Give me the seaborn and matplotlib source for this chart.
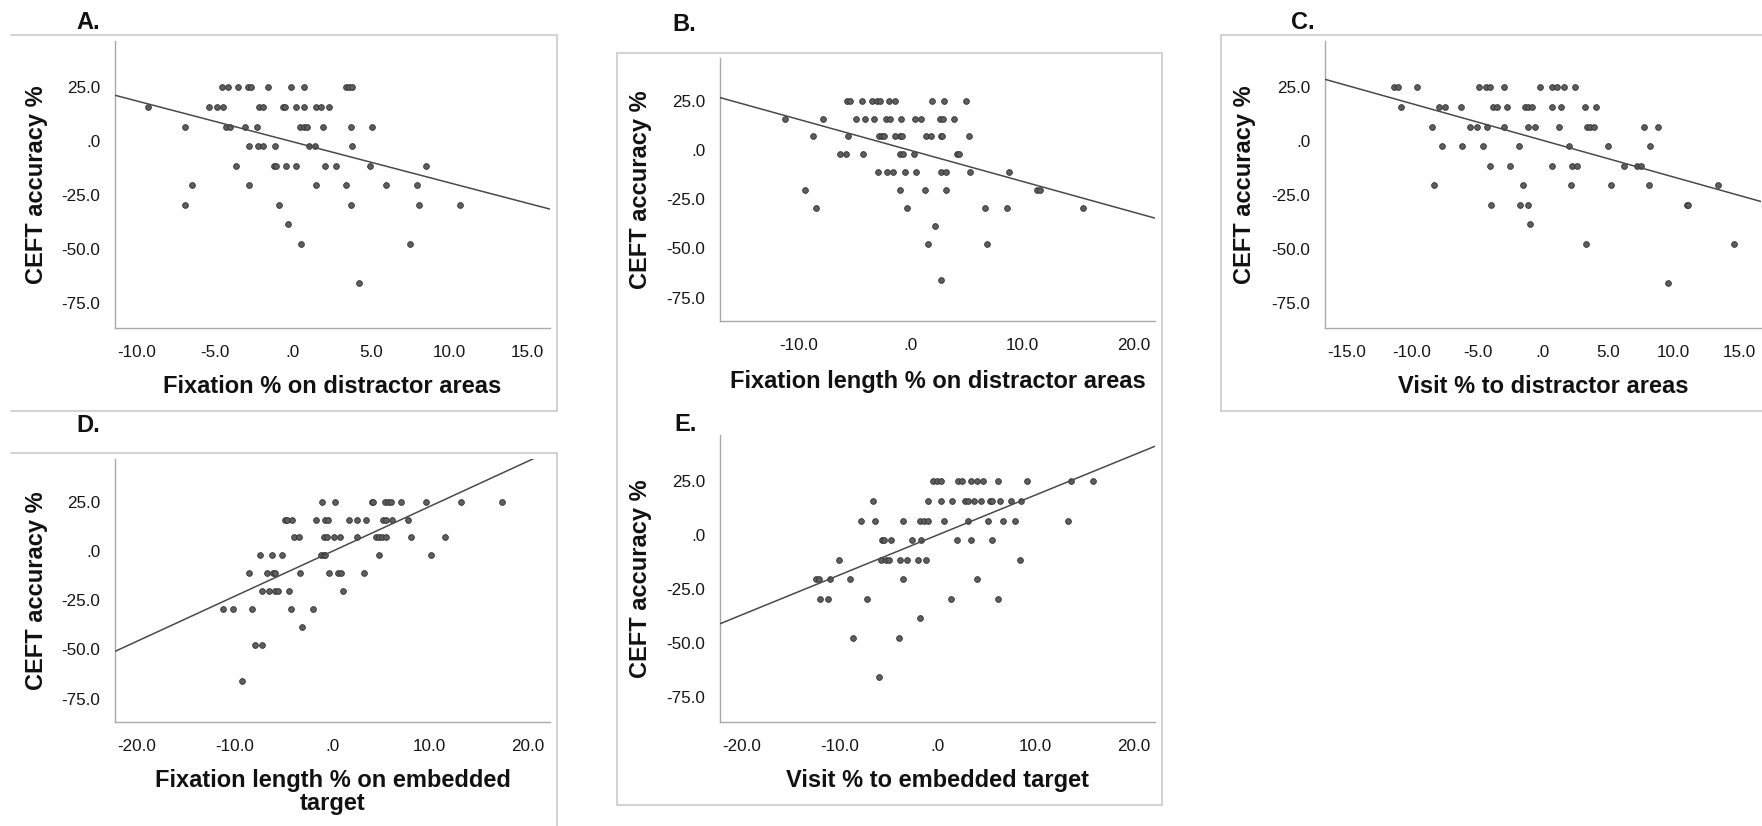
import matplotlib
matplotlib.use("Agg")
import matplotlib.pyplot as plt
from matplotlib.lines import Line2D
from matplotlib.ticker import FixedLocator, FuncFormatter
import pandas as pd
import seaborn as sns

# CEFT accuracy (centred, %) takes one of these discrete levels
ACC_LEVELS = [25.0, 15.9, 6.8, -2.3, -11.4, -20.5, -29.5, -38.6, -47.7, -65.9]

# Predictor values, grouped by the accuracy level of each participant
fix_pct_distractor = [
    [-4.54, -4.16, -3.50, -2.84, -2.65, -1.56, -0.09, 0.71, 3.41, 3.60, 3.78],
    [-9.25, -5.39, -4.87, -4.49, -2.15, -1.92, -0.66, -0.50, 0.17, 0.69, 1.51, 1.77, 2.32],
    [-6.88, -4.28, -4.00, -3.07, -2.27, 0.45, 0.69, 0.88, 1.94, 3.69, 5.09],
    [-2.79, -2.20, -1.89, -1.14, 1.06, 1.42, 3.78],
    [-3.62, -1.23, -1.06, -0.45, 0.21, 2.06, 2.77, 4.94, 8.51],
    [-6.46, -2.79, 1.51, 3.38, 5.94, 7.95],
    [-6.88, -0.88, 3.71, 8.04, 10.69],
    [-0.28],
    [0.54, 7.47],
    [4.26],
]

fix_len_distractor = [
    [-5.67, -5.37, -4.28, -3.41, -2.95, -2.72, -1.86, -1.39, 1.96, 3.05, 5.04],
    [-11.17, -7.79, -4.87, -4.01, -3.25, -2.12, -1.79, -0.80, 0.40, 0.96, 2.68, 2.92, 3.91],
    [-8.65, -5.54, -2.82, -2.52, -2.29, -1.39, -0.86, -0.70, 1.39, 1.89, 2.72, 2.88, 5.27],
    [-6.30, -5.70, -4.24, -0.89, -0.63, 0.33, 4.22, 4.34],
    [-2.85, -2.06, -1.56, -0.43, 0.56, 2.72, 3.22, 5.37, 8.88],
    [-9.41, -0.86, 1.33, 3.25, 11.37, 11.63],
    [-8.45, -0.27, 6.73, 8.65, 15.48],
    [2.25],
    [1.56, 6.89],
    [2.75],
]

visit_pct_distractor = [
    [-11.35, -11.08, -9.62, -4.91, -4.34, -4.04, -2.94, -0.24, 0.73, 1.05, 1.64, 2.45],
    [-10.86, -7.98, -7.49, -6.25, -3.80, -3.53, -2.72, -1.37, -1.16, -0.84, 0.70, 1.37, 3.21, 4.07],
    [-8.46, -5.61, -5.01, -4.29, -2.99, -1.16, -0.57, 1.27, 3.37, 3.61, 3.88, 7.74, 8.81],
    [-7.71, -6.15, -4.61, -1.81, 1.99, 4.99, 8.22],
    [-4.07, -2.51, 0.73, 2.26, 2.61, 6.23, 7.20, 7.52],
    [-8.33, -1.54, 2.13, 5.23, 8.11, 13.37],
    [-3.94, -1.73, -1.13, 11.02, 11.10],
    [-1.02],
    [3.29, 14.58],
    [9.54],
]

fix_len_target = [
    [-1.06, 0.34, 4.09, 4.17, 5.38, 5.76, 6.06, 7.08, 9.66, 13.22, 17.35],
    [-4.81, -4.58, -4.13, -1.59, -0.68, -0.42, 1.74, 2.58, 3.45, 5.23, 5.49, 6.14, 7.73],
    [-3.90, -3.37, -0.83, -0.49, 0.23, 0.83, 2.54, 4.51, 4.81, 5.11, 5.57, 8.11, 11.59],
    [-7.39, -6.14, -5.11, -1.10, -0.80, -0.68, 4.77, 10.11],
    [-8.48, -6.70, -6.02, -5.80, -3.30, -0.30, 0.61, 0.91, 3.26],
    [-7.20, -6.48, -5.83, -5.57, -4.36, 1.14],
    [-11.14, -10.11, -8.18, -4.20, -1.97],
    [-3.11],
    [-7.92, -7.20],
    [-9.17],
]

visit_pct_target = [
    [-0.49, -0.11, 0.30, 2.04, 2.46, 3.37, 3.97, 4.62, 6.17, 9.08, 13.62, 15.89],
    [-6.66, -0.98, 0.34, 1.44, 2.80, 3.10, 3.71, 4.46, 5.37, 5.56, 6.32, 7.45, 8.48],
    [-7.83, -6.39, -3.59, -1.82, -1.36, -0.95, 0.61, 3.14, 5.15, 6.70, 7.87, 13.36],
    [-5.68, -5.49, -4.73, -2.65, -1.70, 1.93, 3.37, 5.56],
    [-10.10, -5.83, -5.33, -4.96, -3.90, -3.18, -2.01, -1.25, 8.44],
    [-12.41, -12.11, -11.05, -8.97, -3.56, 3.97],
    [-12.07, -11.20, -7.23, 1.36, 6.17],
    [-1.82],
    [-8.63, -4.01],
    [-6.02],
]

W, H = 1762, 826
sns.set_theme(style="white")
plt.rcParams["font.family"] = ["Liberation Sans", "DejaVu Sans"]

fig = plt.figure(figsize=(W / 100, H / 100), dpi=100)
fig.patch.set_facecolor("white")

SPINE = "#a9a9a9"
FRAME = "#cfcfcf"
DOT_FACE = "#5e5e5e"
DOT_EDGE = "#303030"
FIT = "#4a4a4a"


def px_rect(left, top, right, bottom):
    return [left / W, 1 - bottom / H, (right - left) / W, (bottom - top) / H]


def spss_fmt(v, _pos):
    s = f"{v:.1f}"
    if s in ("0.0", "-0.0"):
        return ".0"
    return s


def frame_line(x0, y0, x1, y1):
    fig.add_artist(Line2D([x0 / W, x1 / W], [1 - y0 / H, 1 - y1 / H],
                          transform=fig.transFigure, color=FRAME, lw=1.3))


# Layout in pixels (from the top-left corner of the figure).
# xlab_base: baseline of the last line of the x title; ylab_x: centre of the y title.
panels = [
    dict(tag="A.", tag_xy=(76, 29), values=fix_pct_distractor,
         rect=(115, 41, 550, 328), xlim=(-11.37, 16.44),
         xticks=[-10, -5, 0, 5, 10, 15],
         xlabel="Fixation % on distractor areas", xlab_base=393, ylab_x=37),
    dict(tag="B.", tag_xy=(672, 31), values=fix_len_distractor,
         rect=(720, 58, 1155, 321), xlim=(-17.0, 21.9),
         xticks=[-10, 0, 10, 20],
         xlabel="Fixation length % on distractor areas", xlab_base=388, ylab_x=641),
    dict(tag="C.", tag_xy=(1291, 29), values=visit_pct_distractor,
         rect=(1325, 41, 1761, 328), xlim=(-16.66, 16.68),
         xticks=[-15, -10, -5, 0, 5, 10, 15],
         xlabel="Visit % to distractor areas", xlab_base=393, ylab_x=1245),
    dict(tag="D.", tag_xy=(76, 432), values=fix_len_target,
         rect=(115, 459, 550, 722), xlim=(-22.2, 22.3),
         xticks=[-20, -10, 0, 10, 20],
         xlabel="Fixation length % on embedded\ntarget", xlab_base=810, ylab_x=37),
    dict(tag="E.", tag_xy=(674, 431), values=visit_pct_target,
         rect=(720, 435, 1155, 722), xlim=(-22.25, 22.2),
         xticks=[-20, -10, 0, 10, 20],
         xlabel="Visit % to embedded target", xlab_base=787, ylab_x=641),
]

YLIM = (-86.8, 46.6)

for p in panels:
    left, top, right, bottom = p["rect"]
    ax = fig.add_axes(px_rect(left, top, right, bottom))
    ax.set_facecolor("white")

    xs, ys = [], []
    for level, row in zip(ACC_LEVELS, p["values"]):
        xs.extend(row)
        ys.extend([level] * len(row))
    df = pd.DataFrame({"predictor": xs, "accuracy": ys})

    ax.set_xlim(*p["xlim"])
    ax.set_ylim(*YLIM)
    sns.regplot(data=df, x="predictor", y="accuracy", ax=ax, ci=None,
                truncate=False,
                scatter_kws=dict(s=17, color=DOT_FACE, edgecolor=DOT_EDGE,
                                 linewidths=0.6, alpha=1.0, zorder=2),
                line_kws=dict(color=FIT, lw=1.1, zorder=3))
    ax.set_xlim(*p["xlim"])
    ax.set_ylim(*YLIM)

    for side in ("top", "right"):
        ax.spines[side].set_visible(False)
    for side in ("left", "bottom"):
        ax.spines[side].set_color(SPINE)
        ax.spines[side].set_linewidth(1.0)

    ax.xaxis.set_major_locator(FixedLocator(p["xticks"]))
    ax.yaxis.set_major_locator(FixedLocator([25, 0, -25, -50, -75]))
    ax.xaxis.set_major_formatter(FuncFormatter(spss_fmt))
    ax.yaxis.set_major_formatter(FuncFormatter(spss_fmt))
    ax.tick_params(axis="both", which="major", direction="out", length=7.5,
                   width=0.8, color=SPINE, labelsize=12.3, labelcolor="#161616")
    ax.tick_params(axis="x", pad=5)
    ax.tick_params(axis="y", pad=3)

    ax_w = right - left
    ax_h = bottom - top
    ax.set_ylabel("CEFT accuracy %", fontsize=17, fontweight="bold",
                  color="#111111", va="center")
    ax.yaxis.set_label_coords((p["ylab_x"] - left) / ax_w, 0.5)
    ax.set_xlabel(p["xlabel"], fontsize=17, fontweight="bold",
                  color="#111111", va="baseline", linespacing=1.0)
    ax.xaxis.set_label_coords(0.5, (bottom - p["xlab_base"]) / ax_h)

    fig.text(p["tag_xy"][0] / W, 1 - p["tag_xy"][1] / H, p["tag"],
             fontsize=17, fontweight="bold", color="#111111",
             ha="left", va="baseline")

# Panel frames
# A
frame_line(11, 35, 557, 35)
frame_line(557, 35, 557, 411)
frame_line(11, 411, 557, 411)
# B and E share one frame
frame_line(617, 53, 1162, 53)
frame_line(617, 53, 617, 805)
frame_line(1162, 53, 1162, 805)
frame_line(617, 805, 1162, 805)
# C
frame_line(1221, 35, 1762, 35)
frame_line(1221, 35, 1221, 411)
frame_line(1221, 411, 1762, 411)
# D
frame_line(11, 453, 557, 453)
frame_line(557, 453, 557, 826)

fig.savefig("out.png", dpi=100, facecolor="white")
